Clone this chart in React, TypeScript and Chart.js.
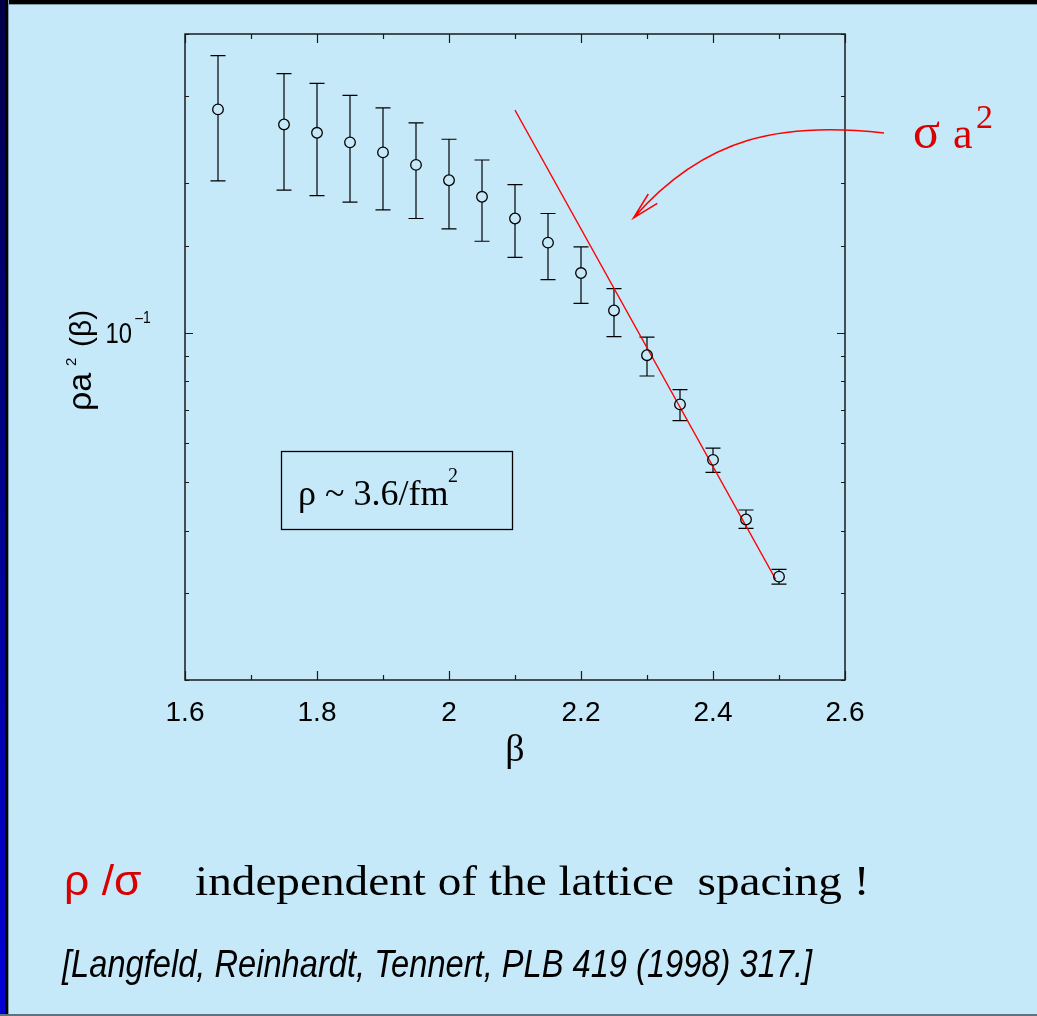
import { useEffect, useRef } from 'react';
import { Chart, registerables } from 'chart.js';

Chart.register(...registerables);

// Lattice coupling β and the measured density ρ·a²(β) with its error band.
const BETA = [1.65, 1.75, 1.8, 1.85, 1.9, 1.95, 2.0, 2.05, 2.1, 2.15, 2.2, 2.25, 2.3, 2.35, 2.4, 2.45, 2.5];
const RHO_A2 = [0.282, 0.263, 0.253, 0.242, 0.231, 0.218, 0.203, 0.188, 0.17, 0.152, 0.132, 0.111, 0.0902, 0.0718, 0.0555, 0.0421, 0.0323];
const RHO_A2_UPPER = [0.362, 0.333, 0.318, 0.301, 0.284, 0.265, 0.2455, 0.223, 0.199, 0.174, 0.149, 0.1228, 0.0981, 0.0769, 0.0586, 0.044, 0.0334];
const RHO_A2_LOWER = [0.2025, 0.194, 0.189, 0.1835, 0.177, 0.17, 0.162, 0.153, 0.142, 0.128, 0.1147, 0.0983, 0.0819, 0.0666, 0.0524, 0.0404, 0.0312];

// String tension σa² (scaled) drawn as a straight line in the log plot.
const FIT_BETA = [2.1, 2.495];
const FIT_SIGMA_A2 = [0.281, 0.0319];

// Axis ranges and tick steps.
const X_MIN = 1.6;
const X_MAX = 2.6;
const X_STEP = 0.1;
const X_LABEL_EVERY = 0.2;
const Y_MIN = 0.02;
const Y_MAX = 0.4;
const Y_LABELED = [0.1];

const BG = 'rgb(198,233,249)';
const RED_LINE = '#ff0000';
const RED_TEXT = '#d80000';
const SANS = "'Liberation Sans', Arial, sans-serif";
const SERIF = "'Liberation Serif', 'Times New Roman', serif";

// plot lettering is horizontally condensed
const NARROW = 0.82;
const POINT_R = 5.3;

const isDecade = (v: number) => Math.abs(Math.log10(v) - Math.round(Math.log10(v))) < 1e-6;
const isLabeledX = (v: number) => Math.abs(v / X_LABEL_EVERY - Math.round(v / X_LABEL_EVERY)) < 1e-6;

const errorBarPlugin = {
  id: 'errorBars',
  beforeDatasetsDraw(chart: any) {
    const { ctx, scales } = chart;
    const xs = scales.x;
    const ys = scales.y;
    ctx.save();
    ctx.strokeStyle = '#000';
    ctx.lineWidth = 1.2;
    BETA.forEach((b, i) => {
      const px = xs.getPixelForValue(b);
      const pc = ys.getPixelForValue(RHO_A2[i]);
      const pt = ys.getPixelForValue(RHO_A2_UPPER[i]);
      const pb = ys.getPixelForValue(RHO_A2_LOWER[i]);
      ctx.beginPath();
      ctx.moveTo(px, pt);
      ctx.lineTo(px, Math.min(pc - POINT_R, pb));
      ctx.moveTo(px, Math.max(pc + POINT_R, pt));
      ctx.lineTo(px, pb);
      ctx.moveTo(px - 7.5, pt);
      ctx.lineTo(px + 7.5, pt);
      ctx.moveTo(px - 7.5, pb);
      ctx.lineTo(px + 7.5, pb);
      ctx.stroke();
    });
    ctx.restore();
  },
};

const framePlugin = {
  id: 'frameAndTicks',
  afterDraw(chart: any) {
    const { ctx, chartArea: a, scales } = chart;
    const xs = scales.x;
    const ys = scales.y;
    ctx.save();
    ctx.strokeStyle = '#1a1a1a';
    ctx.lineWidth = 1.5;
    ctx.strokeRect(a.left, a.top, a.right - a.left, a.bottom - a.top);

    // inward ticks on all four sides
    ctx.lineWidth = 1.2;
    ctx.beginPath();
    xs.ticks.forEach((t: any) => {
      const px = Math.round(xs.getPixelForValue(t.value)) + 0.5;
      const len = isLabeledX(t.value) ? 9 : 5;
      ctx.moveTo(px, a.bottom);
      ctx.lineTo(px, a.bottom - len);
      ctx.moveTo(px, a.top);
      ctx.lineTo(px, a.top + len);
    });
    ys.ticks.forEach((t: any) => {
      const py = Math.round(ys.getPixelForValue(t.value)) + 0.5;
      const len = isDecade(t.value) ? 8 : 4;
      ctx.moveTo(a.left, py);
      ctx.lineTo(a.left + len, py);
      ctx.moveTo(a.right, py);
      ctx.lineTo(a.right - len, py);
    });
    ctx.stroke();

    // decade label 10^-1 on the left axis
    ctx.fillStyle = '#000';
    ctx.textBaseline = 'alphabetic';
    Y_LABELED.forEach((v) => {
      const py = ys.getPixelForValue(v);
      const exp = Math.round(Math.log10(v));
      ctx.save();
      ctx.translate(a.left - 53, py + 10.5);
      ctx.scale(NARROW, 1);
      ctx.font = `29px ${SANS}`;
      ctx.textAlign = 'right';
      ctx.fillText('10', 0, 0);
      ctx.font = `17px ${SANS}`;
      ctx.textAlign = 'left';
      ctx.fillText(exp < 0 ? '\u2013' + Math.abs(exp) : String(exp), 4, -20);
      ctx.restore();
    });

    // y axis title: ρa²(β), reading upwards
    ctx.save();
    ctx.translate(91, 411);
    ctx.rotate(-Math.PI / 2);
    ctx.textAlign = 'left';
    ctx.font = `34px ${SANS}`;
    ctx.fillText('\u03c1a', 0, 0);
    ctx.font = `15px ${SANS}`;
    ctx.fillText('2', 45, -15);
    ctx.font = `30px ${SANS}`;
    ctx.fillText('(\u03b2)', 64, 0);
    ctx.restore();

    // density annotation box
    ctx.lineWidth = 1.3;
    ctx.strokeStyle = '#000';
    ctx.strokeRect(281.5, 451.5, 231, 78);
    ctx.font = `36px ${SERIF}`;
    ctx.textAlign = 'left';
    ctx.fillText('\u03c1 ~ 3.6/fm', 298, 505);
    ctx.font = `20px ${SERIF}`;
    ctx.fillText('2', 448, 482);

    // σa² label with curved arrow pointing at the line
    ctx.fillStyle = RED_TEXT;
    ctx.font = `50px ${SERIF}`;
    ctx.fillText('\u03c3', 913, 148);
    ctx.font = `44px ${SERIF}`;
    ctx.fillText('a', 953, 148);
    ctx.font = `34px ${SERIF}`;
    ctx.fillText('2', 976, 128);

    ctx.strokeStyle = RED_LINE;
    ctx.lineWidth = 1.5;
    ctx.beginPath();
    ctx.moveTo(884, 133);
    ctx.bezierCurveTo(784, 121.6, 705.6, 135.5, 633.5, 218);
    ctx.moveTo(648.3, 194);
    ctx.lineTo(633.5, 218);
    ctx.lineTo(657.3, 203.3);
    ctx.stroke();
    ctx.restore();
  },
};

export default function App() {
  const ref = useRef<HTMLCanvasElement>(null);

  useEffect(() => {
    if (!ref.current) return;
    const chart = new Chart(ref.current, {
      type: 'scatter',
      data: {
        datasets: [
          {
            label: 'rho a^2',
            data: BETA.map((b, i) => ({ x: b, y: RHO_A2[i] })),
            pointStyle: 'circle',
            pointRadius: POINT_R,
            pointBorderWidth: 1.3,
            pointBorderColor: '#000',
            pointBackgroundColor: 'rgba(0,0,0,0)',
            showLine: false,
          },
          {
            label: 'sigma a^2',
            data: FIT_BETA.map((b, i) => ({ x: b, y: FIT_SIGMA_A2[i] })),
            showLine: true,
            borderColor: RED_LINE,
            borderWidth: 1.3,
            pointRadius: 0,
            fill: false,
          },
        ],
      },
      options: {
        animation: false,
        responsive: false,
        devicePixelRatio: 1,
        layout: { padding: { left: 0, top: 34, right: 192, bottom: 246 } },
        plugins: {
          legend: { display: false },
          tooltip: { enabled: false },
          title: { display: false },
        },
        scales: {
          x: {
            type: 'linear',
            min: X_MIN,
            max: X_MAX,
            grid: { display: false, drawTicks: false },
            border: { display: false },
            ticks: {
              stepSize: X_STEP,
              autoSkip: false,
              maxRotation: 0,
              padding: 16,
              color: '#000',
              font: { family: SANS, size: 28 },
              callback: (v: any) => (isLabeledX(Number(v)) ? String(Number(Number(v).toFixed(1))) : ''),
            },
            title: {
              display: true,
              text: '\u03b2',
              color: '#000',
              font: { family: SERIF, size: 38, lineHeight: 1 },
              padding: { top: 0, bottom: 0 },
            },
            afterFit: (s: any) => {
              s.height = 90;
            },
          },
          y: {
            type: 'logarithmic',
            min: Y_MIN,
            max: Y_MAX,
            grid: { display: false, drawTicks: false },
            border: { display: false },
            ticks: { display: true, callback: () => '', autoSkip: false },
            afterFit: (s: any) => {
              s.width = 185;
            },
          },
        },
      },
      plugins: [errorBarPlugin, framePlugin],
    } as any);
    return () => chart.destroy();
  }, []);

  return (
    <div style={{ position: 'fixed', left: 0, top: 0, width: 1037, height: 1016, background: BG, overflow: 'hidden' }}>
      <div style={{ position: 'absolute', left: 0, top: 0, width: 1037, height: 4, background: '#000' }} />
      <div style={{ position: 'absolute', left: 0, top: 4, width: 1037, height: 1, background: '#7d9aa8' }} />
      <div style={{ position: 'absolute', left: 0, top: 0, width: 5, height: 1016, background: 'linear-gradient(#000048, #0000d8)' }} />
      <div style={{ position: 'absolute', left: 5, top: 0, width: 3, height: 1016, background: '#000' }} />
      <div style={{ position: 'absolute', left: 8, top: 0, width: 1, height: 1016, background: '#7d9aa8' }} />
      <div style={{ position: 'absolute', left: 0, bottom: 0, width: 1037, height: 2, background: '#5c7480' }} />
      <canvas ref={ref} width={1037} height={1016} style={{ position: 'absolute', left: 0, top: 0, width: 1037, height: 1016 }} />
      <div style={{ position: 'absolute', left: 64, top: 860, fontFamily: SANS, fontSize: 42, lineHeight: '42px', color: RED_TEXT, whiteSpace: 'pre', transform: 'scaleX(1.06)', transformOrigin: 'left top' }}>
        {'\u03c1 /\u03c3'}
      </div>
      <div style={{ position: 'absolute', left: 195, top: 860, fontFamily: SERIF, fontSize: 42, lineHeight: '42px', color: '#000', whiteSpace: 'pre', transform: 'scaleX(1.125)', transformOrigin: 'left top' }}>
        {'independent of the lattice  spacing !'}
      </div>
      <div style={{ position: 'absolute', left: 62, top: 944, fontFamily: SANS, fontStyle: 'italic', fontSize: 39, lineHeight: '39px', color: '#000', whiteSpace: 'pre', transform: 'scaleX(0.837)', transformOrigin: 'left top' }}>
        {'[Langfeld, Reinhardt, Tennert, PLB 419 (1998) 317.]'}
      </div>
    </div>
  );
}
